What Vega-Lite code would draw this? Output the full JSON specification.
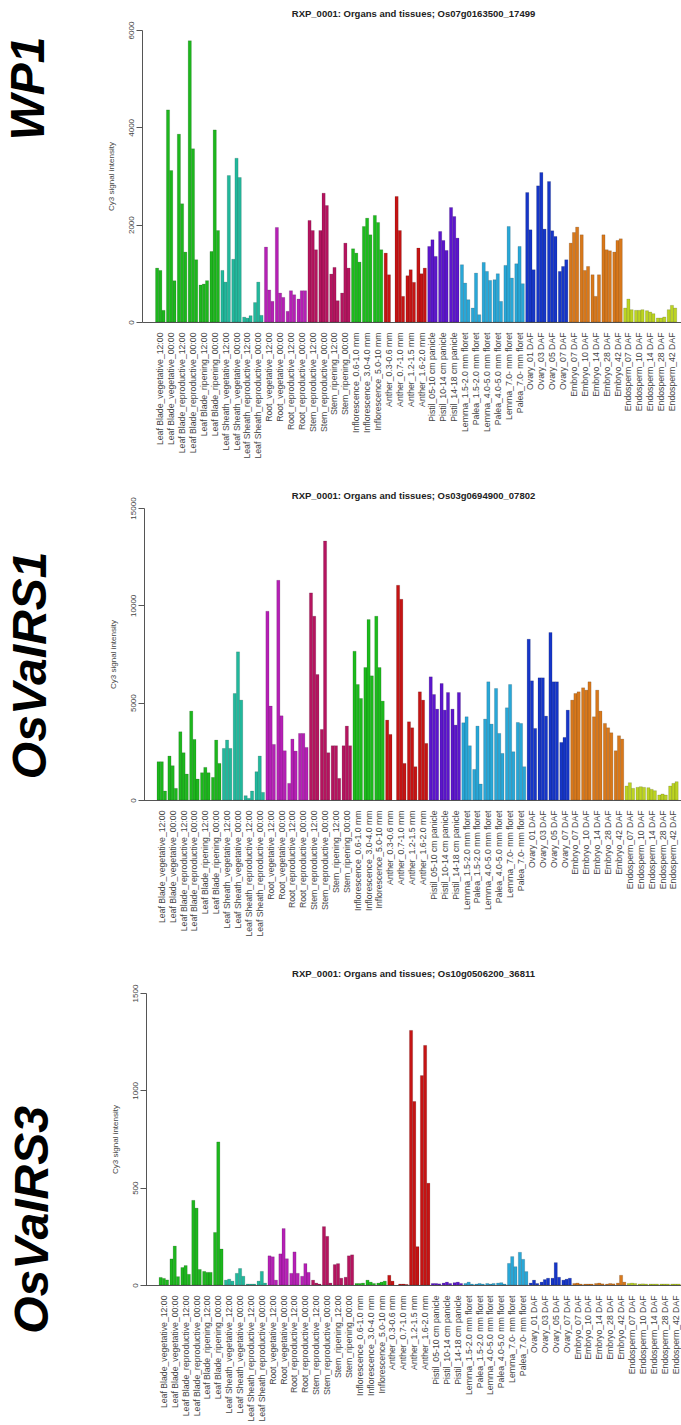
{
  "$schema": "https://vega.github.io/schema/vega-lite/v6.json",
  "background": "white",
  "padding": {"left": 6, "top": 9, "right": 0, "bottom": 0},
  "spacing": 31,
  "resolve": {"scale": {"x": "independent", "xOffset": "independent", "y": "independent"}},
  "config": {
    "view": {"stroke": null},
    "font": "Liberation Sans",
    "axis": {"grid": false, "domainColor": "#555", "tickColor": "#555", "labelColor": "#444", "labelFont": "Liberation Sans", "titleFont": "Liberation Sans"},
    "concat": {"spacing": 31}
  },
  "datasets": {
    "expr": [
      {"sample": "Leaf Blade_vegetative_12:00", "organ": "LB", "WP1_1": 1108, "WP1_2": 1060, "WP1_3": 240, "IRS1_1": 1967, "IRS1_2": 1967, "IRS1_3": 462, "IRS3_1": 39, "IRS3_2": 34, "IRS3_3": 26},
      {"sample": "Leaf Blade_vegetative_00:00", "organ": "LB", "WP1_1": 4358, "WP1_2": 3113, "WP1_3": 848, "IRS1_1": 2258, "IRS1_2": 1762, "IRS1_3": 599, "IRS3_1": 134, "IRS3_2": 200, "IRS3_3": 43},
      {"sample": "Leaf Blade_reproductive_12:00", "organ": "LB", "WP1_1": 3860, "WP1_2": 2430, "WP1_3": 1437, "IRS1_1": 3506, "IRS1_2": 2429, "IRS1_3": 1334, "IRS3_1": 90, "IRS3_2": 100, "IRS3_3": 55},
      {"sample": "Leaf Blade_reproductive_00:00", "organ": "LB", "WP1_1": 5780, "WP1_2": 3560, "WP1_3": 1280, "IRS1_1": 4567, "IRS1_2": 3113, "IRS1_3": 1078, "IRS3_1": 435, "IRS3_2": 395, "IRS3_3": 80},
      {"sample": "Leaf Blade_ripening_12:00", "organ": "LB", "WP1_1": 760, "WP1_2": 780, "WP1_3": 850, "IRS1_1": 1402, "IRS1_2": 1676, "IRS1_3": 1402, "IRS3_1": 70, "IRS3_2": 65, "IRS3_3": 65},
      {"sample": "Leaf Blade_ripening_00:00", "organ": "LB", "WP1_1": 1450, "WP1_2": 3947, "WP1_3": 1880, "IRS1_1": 1163, "IRS1_2": 3079, "IRS1_3": 1881, "IRS3_1": 270, "IRS3_2": 735, "IRS3_3": 185},
      {"sample": "Leaf Sheath_vegetative_12:00", "organ": "LS", "WP1_1": 1060, "WP1_2": 820, "WP1_3": 3010, "IRS1_1": 2651, "IRS1_2": 3079, "IRS1_3": 2651, "IRS3_1": 25, "IRS3_2": 30, "IRS3_3": 20},
      {"sample": "Leaf Sheath_vegetative_00:00", "organ": "LS", "WP1_1": 1290, "WP1_2": 3366, "WP1_3": 2970, "IRS1_1": 5473, "IRS1_2": 7611, "IRS1_3": 5131, "IRS3_1": 60, "IRS3_2": 85, "IRS3_3": 45},
      {"sample": "Leaf Sheath_reproductive_12:00", "organ": "LS", "WP1_1": 100, "WP1_2": 80, "WP1_3": 130, "IRS1_1": 222, "IRS1_2": 86, "IRS1_3": 462, "IRS3_1": 5, "IRS3_2": 5, "IRS3_3": 5},
      {"sample": "Leaf Sheath_reproductive_00:00", "organ": "LS", "WP1_1": 400, "WP1_2": 820, "WP1_3": 137, "IRS1_1": 1454, "IRS1_2": 2258, "IRS1_3": 393, "IRS3_1": 20, "IRS3_2": 70, "IRS3_3": 10},
      {"sample": "Root_vegetative_12:00", "organ": "Root", "WP1_1": 1540, "WP1_2": 660, "WP1_3": 425, "IRS1_1": 9698, "IRS1_2": 4823, "IRS1_3": 2856, "IRS3_1": 150, "IRS3_2": 145, "IRS3_3": 25},
      {"sample": "Root_vegetative_00:00", "organ": "Root", "WP1_1": 1943, "WP1_2": 595, "WP1_3": 506, "IRS1_1": 11288, "IRS1_2": 4327, "IRS1_3": 2531, "IRS3_1": 160, "IRS3_2": 290, "IRS3_3": 135},
      {"sample": "Root_reproductive_12:00", "organ": "Root", "WP1_1": 220, "WP1_2": 643, "WP1_3": 560, "IRS1_1": 855, "IRS1_2": 3130, "IRS1_3": 2514, "IRS3_1": 60, "IRS3_2": 170, "IRS3_3": 60},
      {"sample": "Root_reproductive_00:00", "organ": "Root", "WP1_1": 472, "WP1_2": 643, "WP1_3": 643, "IRS1_1": 3421, "IRS1_2": 3421, "IRS1_3": 2702, "IRS3_1": 45, "IRS3_2": 110, "IRS3_3": 65},
      {"sample": "Stem_reproductive_12:00", "organ": "Stem", "WP1_1": 2087, "WP1_2": 1880, "WP1_3": 1485, "IRS1_1": 10638, "IRS1_2": 9441, "IRS1_3": 6448, "IRS3_1": 25, "IRS3_2": 10, "IRS3_3": 5},
      {"sample": "Stem_reproductive_00:00", "organ": "Stem", "WP1_1": 1880, "WP1_2": 2647, "WP1_3": 2394, "IRS1_1": 3626, "IRS1_2": 13307, "IRS1_3": 2429, "IRS3_1": 300, "IRS3_2": 250, "IRS3_3": 10},
      {"sample": "Stem_ripening_12:00", "organ": "Stem", "WP1_1": 985, "WP1_2": 1122, "WP1_3": 438, "IRS1_1": 2788, "IRS1_2": 2788, "IRS1_3": 1112, "IRS3_1": 105, "IRS3_2": 110, "IRS3_3": 35},
      {"sample": "Stem_ripening_00:00", "organ": "Stem", "WP1_1": 595, "WP1_2": 1621, "WP1_3": 1108, "IRS1_1": 2788, "IRS1_2": 3797, "IRS1_3": 2788, "IRS3_1": 40, "IRS3_2": 150, "IRS3_3": 155},
      {"sample": "Inflorescence_0.6-1.0 mm", "organ": "Infl", "WP1_1": 1505, "WP1_2": 1416, "WP1_3": 1231, "IRS1_1": 7645, "IRS1_2": 5935, "IRS1_3": 5217, "IRS3_1": 8, "IRS3_2": 8, "IRS3_3": 10},
      {"sample": "Inflorescence_3.0-4.0 mm", "organ": "Infl", "WP1_1": 1963, "WP1_2": 2134, "WP1_3": 1792, "IRS1_1": 6807, "IRS1_2": 9270, "IRS1_3": 6380, "IRS3_1": 25, "IRS3_2": 15, "IRS3_3": 8},
      {"sample": "Inflorescence_5.0-10 mm", "organ": "Infl", "WP1_1": 2190, "WP1_2": 2045, "WP1_3": 1485, "IRS1_1": 9441, "IRS1_2": 6807, "IRS1_3": 5080, "IRS3_1": 10, "IRS3_2": 15, "IRS3_3": 20},
      {"sample": "Anther_0.3-0.6 mm", "organ": "Anther", "WP1_1": 1416, "WP1_2": 971, "WP1_3": null, "IRS1_1": 4105, "IRS1_2": 3370, "IRS1_3": null, "IRS3_1": 50, "IRS3_2": 20, "IRS3_3": null},
      {"sample": "Anther_0.7-1.0 mm", "organ": "Anther", "WP1_1": 2580, "WP1_2": 1880, "WP1_3": 527, "IRS1_1": 11032, "IRS1_2": 10313, "IRS1_3": 1881, "IRS3_1": 5, "IRS3_2": 5, "IRS3_3": 3},
      {"sample": "Anther_1.2-1.5 mm", "organ": "Anther", "WP1_1": 951, "WP1_2": 1074, "WP1_3": 815, "IRS1_1": 4019, "IRS1_2": 3711, "IRS1_3": 1710, "IRS3_1": 1308, "IRS3_2": 943, "IRS3_3": 197},
      {"sample": "Anther_1.6-2.0 mm", "organ": "Anther", "WP1_1": 1520, "WP1_2": 992, "WP1_3": 1108, "IRS1_1": 5558, "IRS1_2": 5131, "IRS1_3": 2908, "IRS3_1": 1076, "IRS3_2": 1231, "IRS3_3": 523},
      {"sample": "Pistil_05-10 cm panicle", "organ": "Pistil", "WP1_1": 1553, "WP1_2": 1690, "WP1_3": 1348, "IRS1_1": 6328, "IRS1_2": 5421, "IRS1_3": 4669, "IRS3_1": 8, "IRS3_2": 8, "IRS3_3": 6},
      {"sample": "Pistil_10-14 cm panicle", "organ": "Pistil", "WP1_1": 1861, "WP1_2": 1676, "WP1_3": 1471, "IRS1_1": 5986, "IRS1_2": 4618, "IRS1_3": 5524, "IRS3_1": 10, "IRS3_2": 15, "IRS3_3": 8},
      {"sample": "Pistil_14-18 cm panicle", "organ": "Pistil", "WP1_1": 2353, "WP1_2": 2168, "WP1_3": 1724, "IRS1_1": 4669, "IRS1_2": 3848, "IRS1_3": 5524, "IRS3_1": 12, "IRS3_2": 15, "IRS3_3": 8},
      {"sample": "Lemma_1.5-2.0 mm floret", "organ": "LP", "WP1_1": 1177, "WP1_2": 800, "WP1_3": 458, "IRS1_1": 3968, "IRS1_2": 4276, "IRS1_3": 2788, "IRS3_1": 8, "IRS3_2": 15, "IRS3_3": 5},
      {"sample": "Palea_1.5-2.0 mm floret", "organ": "LP", "WP1_1": 287, "WP1_2": 1005, "WP1_3": 150, "IRS1_1": 1573, "IRS1_2": 3797, "IRS1_3": 821, "IRS3_1": 5, "IRS3_2": 8, "IRS3_3": 5},
      {"sample": "Lemma_4.0-5.0 mm floret", "organ": "LP", "WP1_1": 1224, "WP1_2": 1040, "WP1_3": 855, "IRS1_1": 4156, "IRS1_2": 6072, "IRS1_3": 3900, "IRS3_1": 8, "IRS3_2": 5, "IRS3_3": 8},
      {"sample": "Palea_4.0-5.0 mm floret", "organ": "LP", "WP1_1": 869, "WP1_2": 992, "WP1_3": 424, "IRS1_1": 5730, "IRS1_2": 3421, "IRS1_3": 2394, "IRS3_1": 10, "IRS3_2": 12, "IRS3_3": 5},
      {"sample": "Lemma_7.0- mm floret", "organ": "LP", "WP1_1": 1163, "WP1_2": 1963, "WP1_3": 903, "IRS1_1": 4738, "IRS1_2": 5935, "IRS1_3": 2480, "IRS3_1": 111, "IRS3_2": 146, "IRS3_3": 94},
      {"sample": "Palea_7.0- mm floret", "organ": "LP", "WP1_1": 1197, "WP1_2": 1553, "WP1_3": 787, "IRS1_1": 3985, "IRS1_2": 3934, "IRS1_3": 1710, "IRS3_1": 168, "IRS3_2": 132, "IRS3_3": 69},
      {"sample": "Ovary_01 DAF", "organ": "Ovary", "WP1_1": 2661, "WP1_2": 1895, "WP1_3": 1074, "IRS1_1": 8261, "IRS1_2": 6123, "IRS1_3": 3677, "IRS3_1": 10, "IRS3_2": 25, "IRS3_3": 8},
      {"sample": "Ovary_03 DAF", "organ": "Ovary", "WP1_1": 2798, "WP1_2": 3072, "WP1_3": 1909, "IRS1_1": 6277, "IRS1_2": 6277, "IRS1_3": 4310, "IRS3_1": 15, "IRS3_2": 28, "IRS3_3": 35},
      {"sample": "Ovary_05 DAF", "organ": "Ovary", "WP1_1": 2887, "WP1_2": 1875, "WP1_3": 1758, "IRS1_1": 8603, "IRS1_2": 6072, "IRS1_3": 6072, "IRS3_1": 35, "IRS3_2": 115, "IRS3_3": 40},
      {"sample": "Ovary_07 DAF", "organ": "Ovary", "WP1_1": 1040, "WP1_2": 1142, "WP1_3": 1279, "IRS1_1": 2959, "IRS1_2": 3216, "IRS1_3": 4618, "IRS3_1": 25, "IRS3_2": 30, "IRS3_3": 35},
      {"sample": "Embryo_07 DAF", "organ": "Embryo", "WP1_1": 1621, "WP1_2": 1840, "WP1_3": 1950, "IRS1_1": 5131, "IRS1_2": 5473, "IRS1_3": 5558, "IRS3_1": 8, "IRS3_2": 10, "IRS3_3": 5},
      {"sample": "Embryo_10 DAF", "organ": "Embryo", "WP1_1": 1792, "WP1_2": 1060, "WP1_3": 1142, "IRS1_1": 5764, "IRS1_2": 5644, "IRS1_3": 6072, "IRS3_1": 5, "IRS3_2": 5, "IRS3_3": 5},
      {"sample": "Embryo_14 DAF", "organ": "Embryo", "WP1_1": 971, "WP1_2": 527, "WP1_3": 971, "IRS1_1": 4276, "IRS1_2": 5644, "IRS1_3": 4567, "IRS3_1": 8, "IRS3_2": 10, "IRS3_3": 6},
      {"sample": "Embryo_28 DAF", "organ": "Embryo", "WP1_1": 1792, "WP1_2": 1485, "WP1_3": 1464, "IRS1_1": 3934, "IRS1_2": 3711, "IRS1_3": 3455, "IRS3_1": 5, "IRS3_2": 8, "IRS3_3": 6},
      {"sample": "Embryo_42 DAF", "organ": "Embryo", "WP1_1": 1437, "WP1_2": 1676, "WP1_3": 1710, "IRS1_1": 2531, "IRS1_2": 3301, "IRS1_3": 3130, "IRS3_1": 10, "IRS3_2": 50, "IRS3_3": 15},
      {"sample": "Endosperm_07 DAF", "organ": "Endo", "WP1_1": 287, "WP1_2": 472, "WP1_3": 253, "IRS1_1": 718, "IRS1_2": 889, "IRS1_3": 599, "IRS3_1": 8, "IRS3_2": 10, "IRS3_3": 8},
      {"sample": "Endosperm_10 DAF", "organ": "Endo", "WP1_1": 240, "WP1_2": 240, "WP1_3": 253, "IRS1_1": 650, "IRS1_2": 684, "IRS1_3": 650, "IRS3_1": 5, "IRS3_2": 6, "IRS3_3": 5},
      {"sample": "Endosperm_14 DAF", "organ": "Endo", "WP1_1": 233, "WP1_2": 205, "WP1_3": 171, "IRS1_1": 633, "IRS1_2": 547, "IRS1_3": 479, "IRS3_1": 5, "IRS3_2": 5, "IRS3_3": 5},
      {"sample": "Endosperm_28 DAF", "organ": "Endo", "WP1_1": 82, "WP1_2": 82, "WP1_3": 103, "IRS1_1": 257, "IRS1_2": 308, "IRS1_3": 257, "IRS3_1": 5, "IRS3_2": 5, "IRS3_3": 5},
      {"sample": "Endosperm_42 DAF", "organ": "Endo", "WP1_1": 253, "WP1_2": 342, "WP1_3": 287, "IRS1_1": 718, "IRS1_2": 855, "IRS1_3": 941, "IRS3_1": 5, "IRS3_2": 5, "IRS3_3": 5}
    ]
  },
  "vconcat": [
    {
      "title": {"text": "WP1", "orient": "left", "anchor": "middle", "font": "Liberation Sans", "fontSize": 48, "fontStyle": "italic", "fontWeight": "bold", "color": "#000", "offset": 53, "dx": 145},
      "resolve": {"scale": {"x": "independent", "xOffset": "independent", "y": "independent"}},
      "vconcat": [
        {
          "width": 543, "height": 292,
          "title": {"text": "RXP_0001: Organs and tissues; Os07g0163500_17499", "font": "Liberation Sans", "fontSize": 9.5, "fontWeight": "bold", "color": "#222", "offset": 2.5, "anchor": "middle"},
          "data": {"name": "expr"},
          "transform": [{"fold": ["WP1_1", "WP1_2", "WP1_3"], "as": ["rep", "value"]}],
          "mark": {"type": "bar", "stroke": "#000", "strokeWidth": 0.4, "strokeOpacity": 0.35},
          "encoding": {
            "x": {"field": "sample", "type": "nominal", "sort": null, "scale": {"paddingInner": 0.12, "paddingOuter": 1.917, "align": 0.621, "round": false},
              "axis": {"title": null, "labelAngle": 270, "labelFontSize": 8.7, "ticks": false, "labelPadding": 10, "labelOverlap": false, "labelLimit": 300, "domainWidth": 1}},
            "xOffset": {"field": "rep", "type": "nominal", "scale": {"paddingInner": 0, "paddingOuter": 0}},
            "y": {"field": "value", "type": "quantitative", "scale": {"domain": [0, 6000], "nice": false},
              "axis": {"title": "Cy3 signal intensity", "titleFontSize": 8, "titleFontWeight": "normal", "titleColor": "#444", "titlePadding": 12, "values": [0, 2000, 4000, 6000], "format": "d", "labelAngle": 270, "labelAlign": "center", "labelBaseline": "bottom", "labelFontSize": 8, "labelPadding": 1, "tickSize": 6}},
            "color": {"field": "organ", "type": "nominal", "legend": null,
              "scale": {"domain": ["LB", "LS", "Root", "Stem", "Infl", "Anther", "Pistil", "LP", "Ovary", "Embryo", "Endo"],
                "range": ["#1db71d", "#22b89c", "#b520b5", "#b5145f", "#1cbb1c", "#c51414", "#5c16cc", "#29a7d7", "#1636c8", "#d8781b", "#bcd422"]}}
          }
        }
      ]
    },
    {
      "title": {"text": "OsVaIRS1", "orient": "left", "anchor": "middle", "font": "Liberation Sans", "fontSize": 48, "fontStyle": "italic", "fontWeight": "bold", "color": "#000", "offset": 53, "dx": 48},
      "resolve": {"scale": {"x": "independent", "xOffset": "independent", "y": "independent"}},
      "vconcat": [
        {
          "width": 543, "height": 292,
          "title": {"text": "RXP_0001: Organs and tissues; Os03g0694900_07802", "font": "Liberation Sans", "fontSize": 9.5, "fontWeight": "bold", "color": "#222", "offset": -3.2, "anchor": "middle"},
          "data": {"name": "expr"},
          "transform": [{"fold": ["IRS1_1", "IRS1_2", "IRS1_3"], "as": ["rep", "value"]}],
          "mark": {"type": "bar", "stroke": "#000", "strokeWidth": 0.4, "strokeOpacity": 0.35},
          "encoding": {
            "x": {"field": "sample", "type": "nominal", "sort": null, "scale": {"paddingInner": 0.12, "paddingOuter": 1.917, "align": 0.688, "round": false},
              "axis": {"title": null, "labelAngle": 270, "labelFontSize": 8.7, "ticks": false, "labelPadding": 10, "labelOverlap": false, "labelLimit": 300, "domainWidth": 1}},
            "xOffset": {"field": "rep", "type": "nominal", "scale": {"paddingInner": 0, "paddingOuter": 0}},
            "y": {"field": "value", "type": "quantitative", "scale": {"domain": [0, 15000], "nice": false},
              "axis": {"title": "Cy3 signal intensity", "titleFontSize": 8, "titleFontWeight": "normal", "titleColor": "#444", "titlePadding": 12, "values": [0, 5000, 10000, 15000], "format": "d", "labelAngle": 270, "labelAlign": "center", "labelBaseline": "bottom", "labelFontSize": 8, "labelPadding": 1, "tickSize": 6, "offset": -2}},
            "color": {"field": "organ", "type": "nominal", "legend": null,
              "scale": {"domain": ["LB", "LS", "Root", "Stem", "Infl", "Anther", "Pistil", "LP", "Ovary", "Embryo", "Endo"],
                "range": ["#1db71d", "#22b89c", "#b520b5", "#b5145f", "#1cbb1c", "#c51414", "#5c16cc", "#29a7d7", "#1636c8", "#d8781b", "#bcd422"]}}
          }
        }
      ]
    },
    {
      "title": {"text": "OsVaIRS3", "orient": "left", "anchor": "middle", "font": "Liberation Sans", "fontSize": 48, "fontStyle": "italic", "fontWeight": "bold", "color": "#000", "offset": 53, "dx": -25},
      "resolve": {"scale": {"x": "independent", "xOffset": "independent", "y": "independent"}},
      "vconcat": [
        {
          "width": 543, "height": 292,
          "title": {"text": "RXP_0001: Organs and tissues; Os10g0506200_36811", "font": "Liberation Sans", "fontSize": 9.5, "fontWeight": "bold", "color": "#222", "offset": 5.7, "anchor": "middle"},
          "data": {"name": "expr"},
          "transform": [{"fold": ["IRS3_1", "IRS3_2", "IRS3_3"], "as": ["rep", "value"]}],
          "mark": {"type": "bar", "stroke": "#000", "strokeWidth": 0.4, "strokeOpacity": 0.35},
          "encoding": {
            "x": {"field": "sample", "type": "nominal", "sort": null, "scale": {"paddingInner": 0.12, "paddingOuter": 1.99, "align": 0.784, "round": false},
              "axis": {"title": null, "labelAngle": 270, "labelFontSize": 8.7, "ticks": false, "labelPadding": 10, "labelOverlap": false, "labelLimit": 300, "domainWidth": 1}},
            "xOffset": {"field": "rep", "type": "nominal", "scale": {"paddingInner": 0, "paddingOuter": 0}},
            "y": {"field": "value", "type": "quantitative", "scale": {"domain": [0, 1500], "nice": false},
              "axis": {"title": "Cy3 signal intensity", "titleFontSize": 8, "titleFontWeight": "normal", "titleColor": "#444", "titlePadding": 12, "values": [0, 500, 1000, 1500], "format": "d", "labelAngle": 270, "labelAlign": "center", "labelBaseline": "bottom", "labelFontSize": 8, "labelPadding": 1, "tickSize": 6, "offset": -4}},
            "color": {"field": "organ", "type": "nominal", "legend": null,
              "scale": {"domain": ["LB", "LS", "Root", "Stem", "Infl", "Anther", "Pistil", "LP", "Ovary", "Embryo", "Endo"],
                "range": ["#1db71d", "#22b89c", "#b520b5", "#b5145f", "#1cbb1c", "#c51414", "#5c16cc", "#29a7d7", "#1636c8", "#d8781b", "#bcd422"]}}
          }
        }
      ]
    }
  ]
}
